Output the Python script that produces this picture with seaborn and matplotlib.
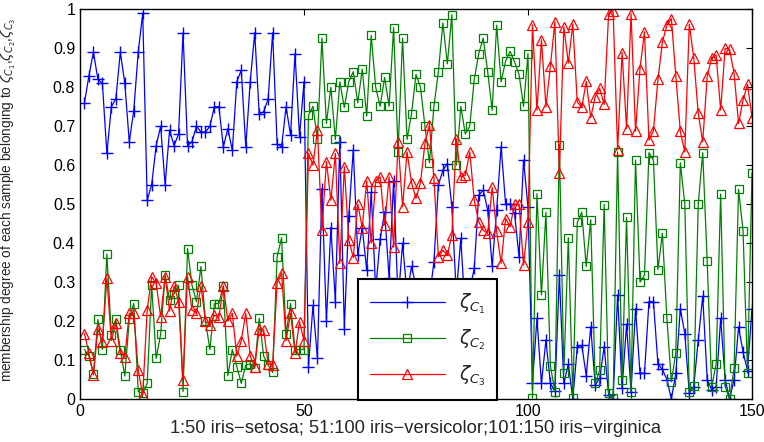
import numpy as np
import matplotlib
matplotlib.use("Agg")
import matplotlib.pyplot as plt
import seaborn as sns

sns.set_style("white")
plt.rcParams['font.family'] = ['Liberation Sans', 'DejaVu Sans']
plt.rcParams['mathtext.fontset'] = 'dejavusans'

sample = list(range(1, 151))

zeta_c1 = [
    0.76, 0.83, 0.89, 0.82, 0.81, 0.63, 0.75, 0.77, 0.89, 0.81,
    0.66, 0.74, 0.89, 0.99, 0.51, 0.55, 0.65, 0.70, 0.55, 0.69,
    0.65, 0.68, 0.94, 0.65, 0.66, 0.70, 0.685, 0.685, 0.70, 0.75,
    0.75, 0.647, 0.694, 0.638, 0.814, 0.844, 0.647, 0.814, 0.94, 0.732,
    0.737, 0.77, 0.94, 0.655, 0.647, 0.75, 0.677, 0.886, 0.673, 0.814,
    0.083, 0.24, 0.104, 0.54, 0.20, 0.44, 0.25, 0.66, 0.18, 0.47,
    0.64, 0.37, 0.44, 0.33, 0.53, 0.28, 0.41, 0.48, 0.31, 0.56,
    0.25, 0.40, 0.27, 0.34, 0.29, 0.28, 0.29, 0.26, 0.352, 0.549,
    0.587, 0.604, 0.493, 0.27, 0.412, 0.22, 0.28, 0.335, 0.523, 0.536,
    0.485, 0.34, 0.485, 0.647, 0.50, 0.50, 0.476, 0.365, 0.613, 0.493,
    0.04, 0.207, 0.04, 0.151, 0.04, 0.02, 0.318, 0.04, 0.09, 0.0,
    0.134, 0.138, 0.06, 0.185, 0.036, 0.053, 0.134, 0.01, 0.0, 0.267,
    0.027, 0.192, 0.019, 0.232, 0.066, 0.066, 0.25, 0.25, 0.09, 0.076,
    0.05, 0.0, 0.066, 0.232, 0.168, 0.015, 0.032, 0.151, 0.264, 0.05,
    0.023, 0.032, 0.207, 0.05, 0.0, 0.05, 0.185, 0.12, 0.073, 0.232,
]

zeta_c2 = [
    0.127, 0.11, 0.064, 0.204, 0.127, 0.372, 0.164, 0.204, 0.127, 0.059,
    0.204, 0.245, 0.019, 0.015, 0.04, 0.292, 0.104, 0.166, 0.318, 0.254,
    0.27, 0.292, 0.019, 0.386, 0.292, 0.25, 0.34, 0.20, 0.127, 0.245,
    0.245, 0.29, 0.06, 0.127, 0.083, 0.04, 0.087, 0.09, 0.08, 0.207,
    0.11, 0.087, 0.068, 0.365, 0.414, 0.166, 0.245, 0.127, 0.127, 0.127,
    0.728, 0.751, 0.666, 0.926, 0.707, 0.80, 0.666, 0.814, 0.748, 0.814,
    0.84, 0.76, 0.846, 0.726, 0.933, 0.80, 0.751, 0.825, 0.751, 0.953,
    0.634, 0.926, 0.666, 0.732, 0.833, 0.80, 0.70, 0.606, 0.751, 0.84,
    0.965, 0.86, 0.986, 0.60, 0.751, 0.68, 0.70, 0.82, 0.886, 0.926,
    0.84, 0.741, 0.959, 0.814, 0.867, 0.892, 0.865, 0.833, 0.751, 0.886,
    0.002, 0.527, 0.267, 0.479, 0.085, 0.019, 0.653, 0.066, 0.414, 0.002,
    0.453, 0.479, 0.34, 0.46, 0.04, 0.074, 0.499, 0.015, 0.002, 0.634,
    0.049, 0.466, 0.019, 0.613, 0.30, 0.318, 0.632, 0.613, 0.332, 0.425,
    0.207, 0.044, 0.119, 0.606, 0.50, 0.019, 0.033, 0.50, 0.632, 0.353,
    0.032, 0.09, 0.526, 0.032, 0.0, 0.079, 0.538, 0.432, 0.066, 0.58,
]

zeta_c3 = [
    0.168, 0.117, 0.062, 0.18, 0.147, 0.31, 0.15, 0.194, 0.117, 0.109,
    0.22, 0.22, 0.074, 0.01, 0.228, 0.314, 0.297, 0.211, 0.314, 0.226,
    0.29, 0.25, 0.049, 0.314, 0.228, 0.22, 0.29, 0.20, 0.19, 0.215,
    0.21, 0.29, 0.20, 0.22, 0.11, 0.15, 0.22, 0.11, 0.083, 0.18,
    0.177, 0.09, 0.087, 0.297, 0.323, 0.15, 0.22, 0.117, 0.198, 0.15,
    0.63, 0.60, 0.69, 0.433, 0.609, 0.51, 0.63, 0.348, 0.596, 0.408,
    0.363, 0.50, 0.44, 0.56, 0.40, 0.56, 0.57, 0.446, 0.57, 0.39,
    0.66, 0.493, 0.634, 0.555, 0.515, 0.555, 0.656, 0.703, 0.566, 0.365,
    0.382, 0.369, 0.42, 0.668, 0.57, 0.574, 0.634, 0.51, 0.455, 0.433,
    0.425, 0.543, 0.43, 0.348, 0.463, 0.442, 0.50, 0.50, 0.344, 0.455,
    0.96, 0.741, 0.922, 0.75, 0.854, 0.968, 0.58, 0.955, 0.862, 0.963,
    0.762, 0.748, 0.815, 0.722, 0.775, 0.797, 0.756, 0.989, 0.996, 0.64,
    0.889, 0.694, 0.989, 0.687, 0.848, 0.942, 0.664, 0.688, 0.82, 0.916,
    0.959, 0.976, 0.828, 0.687, 0.634, 0.962, 0.875, 0.733, 0.66, 0.828,
    0.876, 0.882, 0.741, 0.90, 0.897, 0.835, 0.707, 0.767, 0.807, 0.722,
]

labels = [r'$\zeta_{C_1}$', r'$\zeta_{C_2}$', r'$\zeta_{C_3}$']
colors = ['#0000ff', '#008000', '#ff0000']
xticks = [0, 50, 100, 150]
yticks = [0, 0.1, 0.2, 0.3, 0.4, 0.5, 0.6, 0.7, 0.8, 0.9, 1]
ytick_labels = ['0', '0.1', '0.2', '0.3', '0.4', '0.5', '0.6', '0.7', '0.8', '0.9', '1']

fig = plt.figure(figsize=(7.64, 4.42), dpi=100)
ax = fig.add_axes([0.1047, 0.0973, 0.8796, 0.8817])

styles = [
    dict(marker='+', markersize=9, markeredgewidth=1.0, markerfacecolor='none'),
    dict(marker='s', markersize=5.5, markeredgewidth=0.9, markerfacecolor='none'),
    dict(marker='^', markersize=7.5, markeredgewidth=0.9, markerfacecolor='none'),
]
for vals, lab, col, st in zip([zeta_c1, zeta_c2, zeta_c3], labels, colors, styles):
    sns.lineplot(x=sample, y=vals, ax=ax, color=col, linewidth=0.9,
                 markeredgecolor=col, label=lab, legend=False, **st)

ax.set_xlim(0, 150)
ax.set_ylim(0, 1)
ax.set_xticks(xticks)
ax.set_yticks(yticks)
ax.set_yticklabels(ytick_labels)
ax.tick_params(direction='in', top=True, right=True, length=4, width=0.8,
               labelsize=11.5, colors='black')
for sp in ax.spines.values():
    sp.set_color('black')
    sp.set_linewidth(1.0)

ax.set_xlabel('1:50 iris\u2212setosa; 51:100 iris\u2212versicolor;101:150 iris\u2212virginica',
              fontsize=13.2, labelpad=1)
ax.set_ylabel(r'membership degree of each sample belonging to $\zeta_{C_1}$,$\zeta_{C_2}$,$\zeta_{C_3}$',
              fontsize=9.8)
ax.yaxis.set_label_coords(-0.092, 0.51)

handles = ax.get_lines()[:3]
leg = ax.legend(handles=handles, labels=labels, loc='lower left',
                bbox_to_anchor=(0.414, -0.002), borderaxespad=0,
                fontsize=13.5, handlelength=4.0,
                labelspacing=0.62, borderpad=0.62, handletextpad=0.75,
                fancybox=False, framealpha=1, edgecolor='black')
leg.get_frame().set_linewidth(1.5)

fig.savefig('out.png', dpi=100)
